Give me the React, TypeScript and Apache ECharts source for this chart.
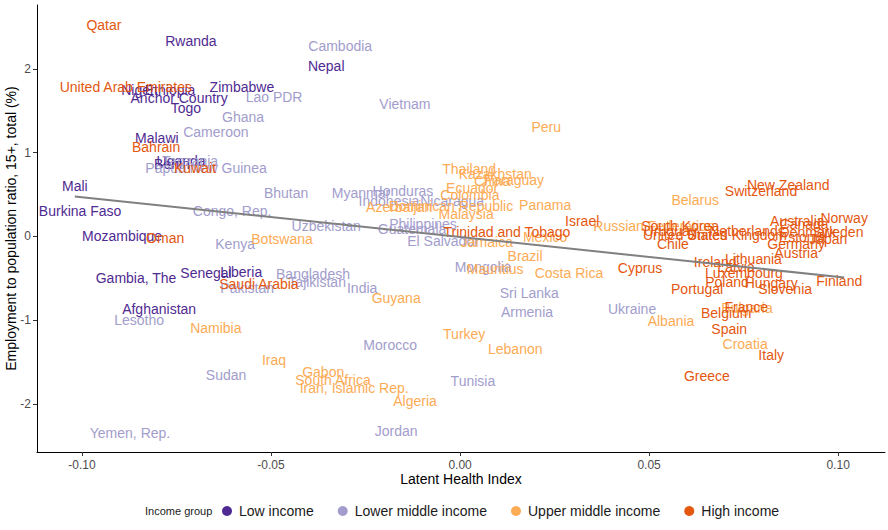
import React, { useEffect, useRef } from "react";
import * as echarts from "echarts";

const FONT = '"Liberation Sans", Arial, Helvetica, sans-serif';

const lowNames = ["Rwanda", "Niger", "Ethiopia", "Anchor Country", "Zimbabwe", "Togo", "Malawi", "Uganda", "Benin", "Mali", "Burkina Faso", "Mozambique", "Gambia, The", "Senegal", "Liberia", "Afghanistan", "Nepal"];
const lowX = [-0.0712, -0.0852, -0.0767, -0.0743, -0.0577, -0.0725, -0.0802, -0.0738, -0.0762, -0.1019, -0.1005, -0.0894, -0.0857, -0.0672, -0.0579, -0.0796, -0.0354];
const lowY = [2.34, 1.755, 1.755, 1.65, 1.79, 1.54, 1.18, 0.907, 0.86, 0.6, 0.3, 0.0, -0.49, -0.43, -0.42, -0.86, 2.04];

const lmNames = ["Cambodia", "Lao PDR", "Ghana", "Cameroon", "Vietnam", "Papua New Guinea", "Tanzania", "Bhutan", "Congo, Rep.", "Kenya", "Uzbekistan", "Myanmar", "Honduras", "Indonesia", "Nicaragua", "Guatemala", "Philippines", "El Salvador", "Bangladesh", "Tajikistan", "Pakistan", "India", "Mongolia", "Sri Lanka", "Armenia", "Morocco", "Ukraine", "Lesotho", "Sudan", "Yemen, Rep.", "Jordan", "Tunisia"];
const lmX = [-0.0317, -0.0492, -0.0574, -0.0646, -0.0146, -0.0672, -0.0714, -0.046, -0.0603, -0.0595, -0.0354, -0.0262, -0.0151, -0.0188, -0.0021, -0.0127, -0.0098, -0.0045, -0.0389, -0.0378, -0.0563, -0.0259, 0.0061, 0.0183, 0.0177, -0.0185, 0.0455, -0.0849, -0.0619, -0.0873, -0.0169, 0.0034];
const lmY = [2.27, 1.66, 1.43, 1.25, 1.58, 0.82, 0.9, 0.525, 0.3, -0.095, 0.13, 0.525, 0.54, 0.42, 0.42, 0.095, 0.155, -0.05, -0.45, -0.54, -0.62, -0.62, -0.36, -0.68, -0.9, -1.3, -0.87, -1.0, -1.65, -2.35, -2.32, -1.73];

const umNames = ["Peru", "Thailand", "Kazakhstan", "China", "Paraguay", "Ecuador", "Colombia", "Dominican Republic", "Azerbaijan", "Malaysia", "Panama", "Jamaica", "Mexico", "Brazil", "Botswana", "Guyana", "Mauritius", "Costa Rica", "Namibia", "Turkey", "Lebanon", "Iraq", "Gabon", "South Africa", "Iran, Islamic Rep.", "Algeria", "Belarus", "Russian Federation", "Albania", "Bulgaria", "Croatia"];
const umX = [0.0228, 0.0024, 0.0093, 0.0085, 0.0143, 0.0032, 0.0026, -0.0024, -0.0161, 0.0016, 0.0225, 0.0071, 0.0225, 0.0172, -0.0471, -0.0169, 0.0093, 0.0288, -0.0646, 0.0011, 0.0146, -0.0492, -0.0362, -0.0336, -0.028, -0.0119, 0.0622, 0.0513, 0.0558, 0.0759, 0.0754];
const umY = [1.31, 0.81, 0.75, 0.66, 0.68, 0.58, 0.49, 0.37, 0.35, 0.27, 0.38, -0.07, -0.01, -0.23, -0.035, -0.74, -0.39, -0.44, -1.09, -1.16, -1.34, -1.48, -1.62, -1.71, -1.81, -1.96, 0.43, 0.12, -1.01, -0.85, -1.28];

const hiNames = ["Qatar", "United Arab Emirates", "Bahrain", "Kuwait", "Oman", "Saudi Arabia", "Trinidad and Tobago", "Israel", "Cyprus", "Switzerland", "New Zealand", "South Korea", "Uruguay", "United States", "United Kingdom", "Netherlands", "Chile", "Ireland", "Lithuania", "Latvia", "Luxembourg", "Poland", "Hungary", "Slovenia", "Portugal", "Finland", "France", "Belgium", "Spain", "Italy", "Greece", "Australia", "Canada", "Norway", "Denmark", "Sweden", "Estonia", "Japan", "Germany", "Austria"];
const hiX = [-0.0942, -0.0884, -0.0804, -0.0701, -0.078, -0.0532, 0.0124, 0.0323, 0.0476, 0.0796, 0.0868, 0.0582, 0.0556, 0.0595, 0.0733, 0.0759, 0.0563, 0.0675, 0.0776, 0.073, 0.0751, 0.0706, 0.0823, 0.086, 0.0627, 0.1003, 0.0757, 0.0704, 0.0712, 0.0823, 0.0653, 0.0892, 0.091, 0.1016, 0.092, 0.1, 0.0905, 0.0974, 0.0889, 0.0889];
const hiY = [2.52, 1.79, 1.07, 0.82, -0.02, -0.57, 0.05, 0.19, -0.38, 0.54, 0.61, 0.12, 0.06, 0.02, 0.02, 0.07, -0.095, -0.31, -0.27, -0.36, -0.43, -0.54, -0.55, -0.63, -0.63, -0.53, -0.84, -0.91, -1.11, -1.42, -1.66, 0.19, 0.155, 0.215, 0.05, 0.05, -0.01, -0.035, -0.095, -0.2];

const trendX = [-0.1019, 0.1016];
const trendY = [0.478, -0.49];

const xTicks = [-0.1, -0.05, 0, 0.05, 0.1];
const yTicks = [-2, -1, 0, 1, 2];

const groups = [
  { name: "Low income", color: "#4f2a92", names: lowNames, xs: lowX, ys: lowY },
  { name: "Lower middle income", color: "#a29dcc", names: lmNames, xs: lmX, ys: lmY },
  { name: "Upper middle income", color: "#fdab55", names: umNames, xs: umX, ys: umY },
  { name: "High income", color: "#e4570f", names: hiNames, xs: hiX, ys: hiY },
];

export default function App() {
  const ref = useRef<HTMLDivElement>(null);
  useEffect(() => {
    document.body.style.margin = "0";
    const chart = echarts.init(ref.current!, undefined, { renderer: "svg" });
    const labelSeries = groups.map((g) => ({
      type: "scatter",
      name: g.name + " (labels)",
      data: g.names.map((n, i) => [g.xs[i], g.ys[i], n]),
      symbolSize: 1,
      itemStyle: { color: "rgba(0,0,0,0)", opacity: 1 },
      silent: true,
      z: 2,
      label: {
        show: true,
        position: "inside",
        formatter: (p: any) => p.data[2],
        color: g.color,
        opacity: 1,
        fontSize: 14,
        fontFamily: FONT,
        textBorderWidth: 0,
      },
      emphasis: { disabled: true },
    }));
    const legendSeries = groups.map((g) => ({
      type: "scatter",
      name: g.name,
      data: [],
      itemStyle: { color: g.color, opacity: 1 },
    }));
    chart.setOption({
      animation: false,
      grid: { left: 37, right: 3, top: 5, bottom: 78, containLabel: false, outerBoundsMode: "none" },
      xAxis: {
        type: "value",
        min: -0.1119,
        max: 0.1124,
        name: "Latent Health Index",
        nameLocation: "middle",
        nameGap: 20,
        nameMoveOverlap: false,
        nameTextStyle: { fontSize: 14, color: "#000", fontFamily: FONT },
        axisLine: { show: true, onZero: false, lineStyle: { color: "#000", width: 1 } },
        axisTick: { show: true, length: 4, lineStyle: { color: "#333" }, customValues: xTicks },
        axisLabel: {
          customValues: xTicks,
          formatter: (v: number) => v.toFixed(2),
          fontSize: 12,
          color: "#4d4d4d",
          margin: 7,
          fontFamily: FONT,
        },
        splitLine: { show: false },
      },
      yAxis: {
        type: "value",
        min: -2.573,
        max: 2.764,
        name: "Employment to population ratio, 15+, total (%)",
        nameLocation: "middle",
        nameGap: 19,
        nameMoveOverlap: false,
        nameTextStyle: { fontSize: 14, color: "#000", fontFamily: FONT },
        axisLine: { show: true, onZero: false, lineStyle: { color: "#000", width: 1 } },
        axisTick: { show: true, length: 4, lineStyle: { color: "#333" }, customValues: yTicks },
        axisLabel: {
          customValues: yTicks,
          fontSize: 12,
          color: "#4d4d4d",
          margin: 6,
          fontFamily: FONT,
        },
        splitLine: { show: false },
      },
      legend: {
        data: groups.map((g) => g.name),
        left: 222,
        top: 504,
        padding: 0,
        icon: "circle",
        itemWidth: 14,
        itemHeight: 10,
        itemGap: 24,
        selectedMode: false,
        textStyle: { fontSize: 14, color: "#1a1a1a", fontFamily: FONT },
      },
      graphic: [
        {
          type: "text",
          left: 145,
          top: 505,
          style: { text: "Income group", fontSize: 11, fill: "#1a1a1a", fontFamily: FONT },
        },
      ],
      series: [
        ...labelSeries,
        ...legendSeries,
        {
          type: "line",
          data: trendX.map((x, i) => [x, trendY[i]]),
          symbol: "none",
          silent: true,
          z: 10,
          lineStyle: { color: "#808080", width: 2 },
        },
      ],
    });
    return () => chart.dispose();
  }, []);
  return <div ref={ref} style={{ width: 888, height: 530 }} />;
}
